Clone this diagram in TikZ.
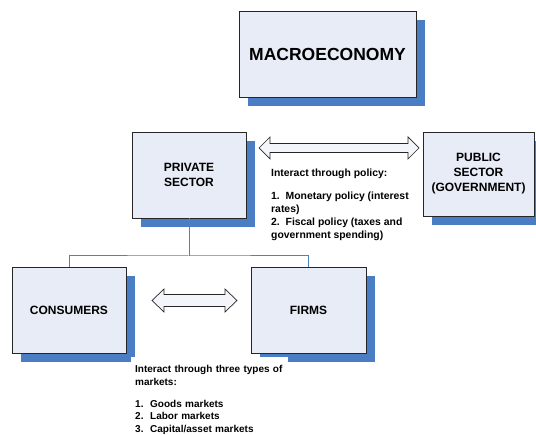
\documentclass[tikz,border=0pt]{standalone}
\usepackage{fontspec}
\setmainfont{Liberation Sans}
\usetikzlibrary{shadows}
\definecolor{boxfill}{RGB}{231,236,246}
\definecolor{shadowblue}{RGB}{74,125,196}
\definecolor{linkblue}{RGB}{79,129,189}
\definecolor{arrowfill}{RGB}{243,245,250}
\tikzset{
  sectorbox/.style={draw=black!85, line width=0.9pt, fill=boxfill, align=center,
    font=\bfseries\fontsize{12}{15}\selectfont, inner sep=0pt,
    drop shadow={shadow xshift=9pt, shadow yshift=-9pt, fill=shadowblue, opacity=1}},
  notetext/.style={align=left, font=\bfseries\fontsize{10}{12.8}\selectfont, fill=white, inner xsep=4pt},
  linkline/.style={draw=linkblue, line width=1pt},
  blockarrow/.style={draw=black!85, line width=0.7pt, fill=arrowfill, line join=miter}
}
\begin{document}
\begin{tikzpicture}[x=1pt, y=-1pt]
\useasboundingbox (0,0) rectangle (536,435);
\node[sectorbox, minimum width=177pt, minimum height=86pt, font=\bfseries\fontsize{17.5}{20}\selectfont] (macro) at (327.5,54) {MACROECONOMY};
\node[sectorbox, minimum width=114pt, minimum height=86pt] (private) at (189,175) {PRIVATE\\SECTOR};
\node[sectorbox, minimum width=111pt, minimum height=84pt] (public) at (478.5,174) {PUBLIC\\SECTOR\\(GOVERNMENT)};
\coordinate (j) at (189,256);
\draw[linkline] (private.south) -- (j);
\node[sectorbox, minimum width=114pt, minimum height=86pt] (consumers) at (69,310) {CONSUMERS};
\node[sectorbox, minimum width=115pt, minimum height=86pt] (firms) at (308.5,310) {FIRMS};
\draw[linkline] (consumers.north) |- (j) -| (firms.north);
% block arrows
\draw[blockarrow] (259,148) -- (270,137) -- (270,143.5) -- (408,143.5) -- (408,137) -- (419,148)
  -- (408,159) -- (408,152.5) -- (270,152.5) -- (270,159) -- cycle;
\draw[blockarrow] (152,300.5) -- (164,289) -- (164,294.5) -- (225,294.5) -- (225,289) -- (237,300.5)
  -- (225,312) -- (225,306.5) -- (164,306.5) -- (164,312) -- cycle;
\node[notetext, anchor=north west, inner ysep=3pt, font=\bfseries\fontsize{10.4}{13}\selectfont] (policy) at (267,166)
  {Interact through policy:\\[9.5pt]
   1.\ \ Monetary policy (interest\\
   rates)\\
   2.\ \ Fiscal policy (taxes and\\
   government spending)};
\node[notetext, anchor=north west, inner ysep=8pt, text width=149pt] (markets) at (131,357)
  {Interact through three types of\\
   markets:\\[9pt]
   1.\ \ Goods markets\\
   2.\ \ Labor markets\\
   3.\ \ Capital/asset markets};
\end{tikzpicture}
\end{document}
